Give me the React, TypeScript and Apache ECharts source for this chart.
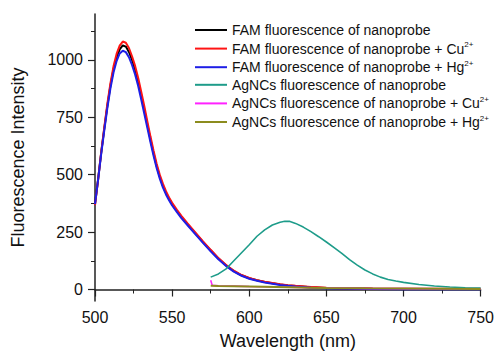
import React, { useEffect, useRef } from "react";
import * as echarts from "echarts";

const famWavelengths = [500,502,504,506,508,510,512,514,516,518,520,522,524,526,528,530,532,534,536,538,540,542,544,546,548,550,553,556,560,565,570,575,580,585,590,595,600,605,610,615,620,625,630,640,650,660,670,680,700,725,750];
const famBlack = [372,480,595,700,800,888,960,1012,1046,1063,1058,1035,1000,958,905,845,782,716,652,592,537,491,452,421,395,372,343,316,284,245,207,170,135,105,80,62,49,40,33,27,22,18,15,10,7,5,4,3,2,2,2];
const famRed = [368,478,597,705,808,898,972,1026,1062,1080,1075,1052,1016,974,921,860,797,730,665,603,547,500,461,428,401,378,348,321,288,249,210,173,137,107,82,63,50,41,34,28,23,19,16,11,8,6,5,4,3,3,3];
const famBlue = [372,478,590,692,790,876,945,995,1028,1040,1034,1012,978,937,886,826,764,702,640,581,528,483,445,414,389,366,338,311,280,241,203,166,132,102,78,60,47,38,31,25,20,16,13,8,5,4,3,2,1,1,1];

const agWavelengths = [575,580,585,590,595,600,605,610,615,620,623,626,630,635,640,645,650,655,660,665,670,675,680,685,690,695,700,710,720,730,740,750];
const agNano = [54,68,90,125,160,195,232,260,281,293,297,297,288,272,252,230,207,182,157,130,106,85,68,54,44,37,31,22,15,11,8,6];

const lowWavelengths = [575,576,580,590,600,610,625,640,650,675,700,725,750];
const agCu = [40,18,16,15,13,12,10,8,7,5,4,3,3];
const agHg = [16,16,15,14,13,12,10,8,7,5,4,3,2];

const xTicks = [500, 550, 600, 650, 700, 750];
const yTicks = [0, 250, 500, 750, 1000];
const yMinorTicks = [125, 375, 625, 875, 1125];

const seriesNames = [
  "FAM fluorescence of nanoprobe",
  "FAM fluorescence of nanoprobe + Cu2+",
  "FAM fluorescence of nanoprobe + Hg2+",
  "AgNCs fluorescence of nanoprobe",
  "AgNCs fluorescence of nanoprobe + Cu2+",
  "AgNCs fluorescence of nanoprobe + Hg2+",
];
const seriesColors = ["#000000", "#ff1414", "#1e1ee6", "#1e9c8a", "#ff22ff", "#8c8c1e"];

const pairs = (xs: number[], ys: number[]) => xs.map((x, i) => [x, ys[i]]);

export default function App() {
  const ref = useRef<HTMLDivElement>(null);
  useEffect(() => {
    document.body.style.margin = "0";
    const chart = echarts.init(ref.current!, null, { renderer: "svg" });
    const seriesData = [
      pairs(famWavelengths, famBlack),
      pairs(famWavelengths, famRed),
      pairs(famWavelengths, famBlue),
      pairs(agWavelengths, agNano),
      pairs(lowWavelengths, agCu),
      pairs(lowWavelengths, agHg),
    ];
    const widths = [2, 2, 2, 1.6, 1.6, 2];
    const font = "Liberation Sans, Arial, sans-serif";
    chart.setOption({
      animation: false,
      grid: { left: 95, right: 15, top: 14, bottom: 55 },
      legend: {
        orient: "vertical",
        left: 190,
        top: 18,
        icon: "rect",
        itemWidth: 32,
        itemHeight: 2,
        itemGap: 3.6,
        data: seriesNames,
        formatter: (name: string) => {
          const m = name.match(/^(.*)(\d\+)$/);
          if (m) return `{a|${m[1]}}{s|${m[2]}}`;
          return `{a|${name}}`;
        },
        textStyle: {
          fontSize: 14,
          fontFamily: font,
          color: "#111",
          rich: {
            a: { fontSize: 14, lineHeight: 16, fontFamily: font, color: "#111" },
            s: { fontSize: 8, lineHeight: 8, verticalAlign: "top", fontFamily: font, color: "#111" },
          },
        },
      },
      xAxis: {
        type: "value",
        min: 500,
        max: 750,
        interval: 50,
        name: "Wavelength (nm)",
        nameLocation: "middle",
        nameGap: 31,
        nameTextStyle: { fontSize: 18, fontFamily: font, color: "#111" },
        axisLine: { lineStyle: { color: "#222", width: 1.5 } },
        axisTick: { length: 7, lineStyle: { color: "#222", width: 1.2 }, customValues: xTicks },
        minorTick: { show: true, splitNumber: 2, length: 4, lineStyle: { color: "#222", width: 1 } },
        axisLabel: { fontSize: 16, fontFamily: font, color: "#111", margin: 8, customValues: xTicks },
        splitLine: { show: false },
      },
      yAxis: [
        {
          type: "value",
          min: -50,
          max: 1200,
          name: "Fluorescence Intensity",
          nameLocation: "middle",
          nameGap: 68,
          nameTextStyle: { fontSize: 18, fontFamily: font, color: "#111" },
          axisLine: { show: true, lineStyle: { color: "#222", width: 1.5 } },
          axisTick: { show: true, length: 7, lineStyle: { color: "#222", width: 1.2 }, customValues: yTicks },
          axisLabel: {
            fontSize: 16,
            fontFamily: font,
            color: "#111",
            margin: 12,
            customValues: yTicks,
            formatter: (v: number) => String(v),
          },
          splitLine: { show: false },
        },
        {
          type: "value",
          min: -50,
          max: 1200,
          position: "left",
          axisLine: { show: false },
          axisTick: { show: true, length: 4, lineStyle: { color: "#222", width: 1 }, customValues: yMinorTicks },
          axisLabel: { show: false },
          splitLine: { show: false },
        },
      ],
      series: seriesNames.map((name, i) => ({
        name,
        type: "line",
        data: seriesData[i],
        symbol: "none",
        smooth: false,
        yAxisIndex: 0,
        lineStyle: { color: seriesColors[i], width: widths[i] },
        itemStyle: { color: seriesColors[i] },
      })),
    });
    return () => chart.dispose();
  }, []);
  return <div ref={ref} style={{ width: 497, height: 356 }} />;
}
